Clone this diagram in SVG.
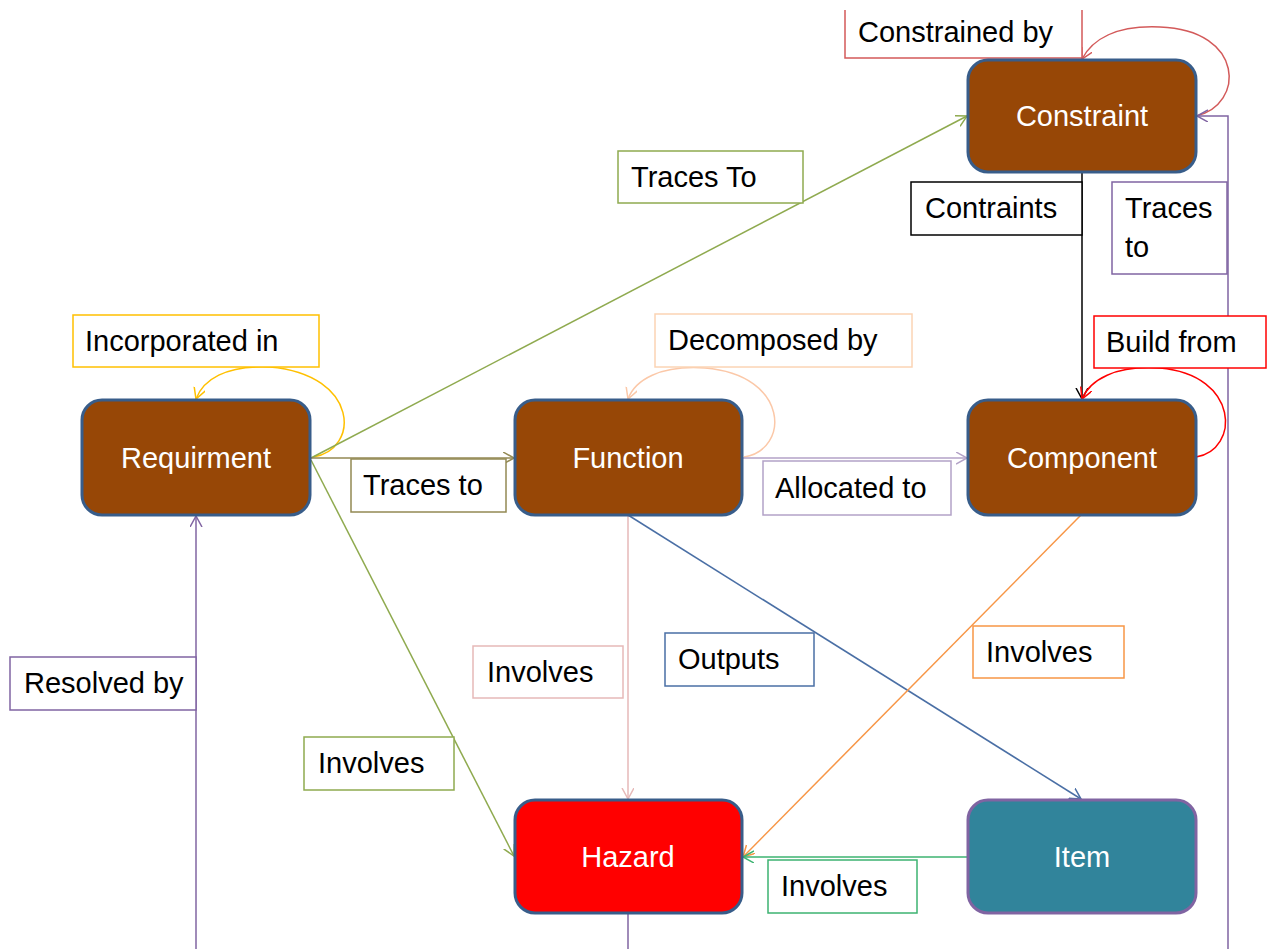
<svg xmlns="http://www.w3.org/2000/svg" width="1269" height="949" viewBox="0 0 1269 949">
<style>
.node{stroke:#385d8a;stroke-width:3}
.ntext{font-family:"Liberation Sans",Arial,sans-serif;font-size:29px;fill:#ffffff;text-anchor:middle}
.ltext{font-family:"Liberation Sans",Arial,sans-serif;font-size:29px;fill:#000000}
.lbox{fill:#ffffff;stroke-width:1.5}
.edge{fill:none;stroke-width:1.5}
</style>
<defs>
<marker id="m-green" markerUnits="userSpaceOnUse" markerWidth="14" markerHeight="14" refX="11" refY="6" orient="auto"><path d="M0,0 L11,6 L0,12" fill="none" stroke="#8faa4f" stroke-width="1.5"/></marker>
<marker id="m-olive" markerUnits="userSpaceOnUse" markerWidth="14" markerHeight="14" refX="11" refY="6" orient="auto"><path d="M0,0 L11,6 L0,12" fill="none" stroke="#938953" stroke-width="1.5"/></marker>
<marker id="m-yellow" markerUnits="userSpaceOnUse" markerWidth="14" markerHeight="14" refX="11" refY="6" orient="auto"><path d="M0,0 L11,6 L0,12" fill="none" stroke="#ffc000" stroke-width="1.5"/></marker>
<marker id="m-peach" markerUnits="userSpaceOnUse" markerWidth="14" markerHeight="14" refX="11" refY="6" orient="auto"><path d="M0,0 L11,6 L0,12" fill="none" stroke="#fbc8a8" stroke-width="1.5"/></marker>
<marker id="m-red" markerUnits="userSpaceOnUse" markerWidth="14" markerHeight="14" refX="11" refY="6" orient="auto"><path d="M0,0 L11,6 L0,12" fill="none" stroke="#ff0000" stroke-width="1.5"/></marker>
<marker id="m-rose" markerUnits="userSpaceOnUse" markerWidth="14" markerHeight="14" refX="11" refY="6" orient="auto"><path d="M0,0 L11,6 L0,12" fill="none" stroke="#d35a5a" stroke-width="1.5"/></marker>
<marker id="m-black" markerUnits="userSpaceOnUse" markerWidth="14" markerHeight="14" refX="11" refY="6" orient="auto"><path d="M0,0 L11,6 L0,12" fill="none" stroke="#000000" stroke-width="1.5"/></marker>
<marker id="m-purple" markerUnits="userSpaceOnUse" markerWidth="14" markerHeight="14" refX="11" refY="6" orient="auto"><path d="M0,0 L11,6 L0,12" fill="none" stroke="#8064a2" stroke-width="1.5"/></marker>
<marker id="m-lav" markerUnits="userSpaceOnUse" markerWidth="14" markerHeight="14" refX="11" refY="6" orient="auto"><path d="M0,0 L11,6 L0,12" fill="none" stroke="#b3a2c7" stroke-width="1.5"/></marker>
<marker id="m-pink" markerUnits="userSpaceOnUse" markerWidth="14" markerHeight="14" refX="11" refY="6" orient="auto"><path d="M0,0 L11,6 L0,12" fill="none" stroke="#e6b9b8" stroke-width="1.5"/></marker>
<marker id="m-blue" markerUnits="userSpaceOnUse" markerWidth="14" markerHeight="14" refX="11" refY="6" orient="auto"><path d="M0,0 L11,6 L0,12" fill="none" stroke="#4a6fa5" stroke-width="1.5"/></marker>
<marker id="m-orange" markerUnits="userSpaceOnUse" markerWidth="14" markerHeight="14" refX="11" refY="6" orient="auto"><path d="M0,0 L11,6 L0,12" fill="none" stroke="#f79646" stroke-width="1.5"/></marker>
<marker id="m-mint" markerUnits="userSpaceOnUse" markerWidth="14" markerHeight="14" refX="11" refY="6" orient="auto"><path d="M0,0 L11,6 L0,12" fill="none" stroke="#3cb371" stroke-width="1.5"/></marker>
</defs>
<rect x="0" y="0" width="1269" height="949" fill="#ffffff"/>

<g id="connectors">
  <path class="edge" stroke="#d35a5a" marker-end="url(#m-rose)" d="M1196,116 C1245,105 1245,30 1160,27 C1115,25 1092,40 1082,59"/>
  <path class="edge" stroke="#8064a2" marker-end="url(#m-purple)" d="M1228,949 V116 H1197"/>
  <path class="edge" stroke="#000000" marker-end="url(#m-black)" d="M1082,173 V399"/>
  <path class="edge" stroke="#ff0000" marker-end="url(#m-red)" d="M1196,457 C1240,450 1240,375 1160,368 C1115,365 1090,380 1082,399"/>
  <path class="edge" stroke="#fbc8a8" marker-end="url(#m-peach)" d="M744,457 C790,450 790,375 705,368 C660,365 635,380 628,399"/>
  <path class="edge" stroke="#ffc000" marker-end="url(#m-yellow)" d="M313,457 C360,450 360,375 270,367 C225,365 203,380 196,399"/>
  <path class="edge" stroke="#8faa4f" marker-end="url(#m-green)" d="M311,458 L967,116"/>
  <path class="edge" stroke="#938953" marker-end="url(#m-olive)" d="M311,458 H514"/>
  <path class="edge" stroke="#8faa4f" marker-end="url(#m-green)" d="M311,460 L514,856"/>
  <path class="edge" stroke="#8064a2" marker-end="url(#m-purple)" d="M196,949 V516"/>
  <path class="edge" stroke="#e6b9b8" marker-end="url(#m-pink)" d="M628,516 V799"/>
  <path class="edge" stroke="#8064a2" d="M628,914 V949"/>
  <path class="edge" stroke="#b3a2c7" marker-end="url(#m-lav)" d="M743,458 H967"/>
  <path class="edge" stroke="#4a6fa5" marker-end="url(#m-blue)" d="M628,515 L1081,799"/>
  <path class="edge" stroke="#f79646" marker-end="url(#m-orange)" d="M1081,515 L743,857"/>
  <path class="edge" stroke="#3cb371" marker-end="url(#m-mint)" d="M968,857 H743"/>
</g>

<g id="labels">
  <g id="lbl-constrained-by"><path class="lbox" stroke="#d35a5a" d="M845,10 V58 H1082 V10"/><text class="ltext" x="858" y="42">Constrained by</text></g>
  <g id="lbl-traces-to-constraint"><rect class="lbox" stroke="#8faa4f" x="618" y="151" width="185" height="52"/><text class="ltext" x="631" y="187">Traces To</text></g>
  <g id="lbl-contraints"><rect class="lbox" stroke="#000000" x="911" y="182" width="171" height="53"/><text class="ltext" x="925" y="218">Contraints</text></g>
  <g id="lbl-traces-to-right"><rect class="lbox" stroke="#8064a2" x="1112" y="182" width="115" height="92"/><text class="ltext" x="1125" y="218">Traces</text><text class="ltext" x="1125" y="257">to</text></g>
  <g id="lbl-incorporated"><rect class="lbox" stroke="#ffc000" x="73" y="315" width="246" height="52"/><text class="ltext" x="85" y="351">Incorporated in</text></g>
  <g id="lbl-decomposed"><rect class="lbox" stroke="#fbd4b4" x="655" y="314" width="257" height="53"/><text class="ltext" x="668" y="350">Decomposed by</text></g>
  <g id="lbl-build-from"><rect class="lbox" stroke="#ff0000" x="1094" y="316" width="172" height="52"/><text class="ltext" x="1106" y="352">Build from</text></g>
  <g id="lbl-traces-to-func"><rect class="lbox" stroke="#938953" x="351" y="459" width="155" height="53"/><text class="ltext" x="363" y="495">Traces to</text></g>
  <g id="lbl-allocated"><rect class="lbox" stroke="#b3a2c7" x="763" y="461" width="188" height="54"/><text class="ltext" x="775" y="498">Allocated to</text></g>
  <g id="lbl-involves-func"><rect class="lbox" stroke="#e6b9b8" x="473" y="646" width="150" height="52"/><text class="ltext" x="487" y="682">Involves</text></g>
  <g id="lbl-outputs"><rect class="lbox" stroke="#4a6fa5" x="665" y="633" width="149" height="53"/><text class="ltext" x="678" y="669">Outputs</text></g>
  <g id="lbl-involves-comp"><rect class="lbox" stroke="#f79646" x="973" y="626" width="151" height="52"/><text class="ltext" x="986" y="662">Involves</text></g>
  <g id="lbl-resolved"><rect class="lbox" stroke="#8064a2" x="10" y="657" width="186" height="53"/><text class="ltext" x="24" y="693">Resolved by</text></g>
  <g id="lbl-involves-req"><rect class="lbox" stroke="#8faa4f" x="304" y="737" width="150" height="53"/><text class="ltext" x="318" y="773">Involves</text></g>
  <g id="lbl-involves-item"><rect class="lbox" stroke="#3cb371" x="768" y="860" width="149" height="53"/><text class="ltext" x="781" y="896">Involves</text></g>
</g>

<g id="node-constraint"><rect class="node" fill="#974706" x="968" y="60" width="228" height="112" rx="20"/><text class="ntext" x="1082" y="126">Constraint</text></g>
<g id="node-requirment"><rect class="node" fill="#974706" x="82" y="400" width="228" height="115" rx="20"/><text class="ntext" x="196" y="468">Requirment</text></g>
<g id="node-function"><rect class="node" fill="#974706" x="515" y="400" width="227" height="115" rx="20"/><text class="ntext" x="628" y="468">Function</text></g>
<g id="node-component"><rect class="node" fill="#974706" x="968" y="400" width="228" height="115" rx="20"/><text class="ntext" x="1082" y="468">Component</text></g>
<g id="node-hazard"><rect class="node" fill="#ff0000" x="515" y="800" width="227" height="113" rx="20"/><text class="ntext" x="628" y="867">Hazard</text></g>
<g id="node-item"><rect class="node" fill="#31849b" stroke="#8064a2" style="stroke:#8064a2" x="968" y="800" width="228" height="113" rx="20"/><text class="ntext" x="1082" y="867">Item</text></g>
</svg>
